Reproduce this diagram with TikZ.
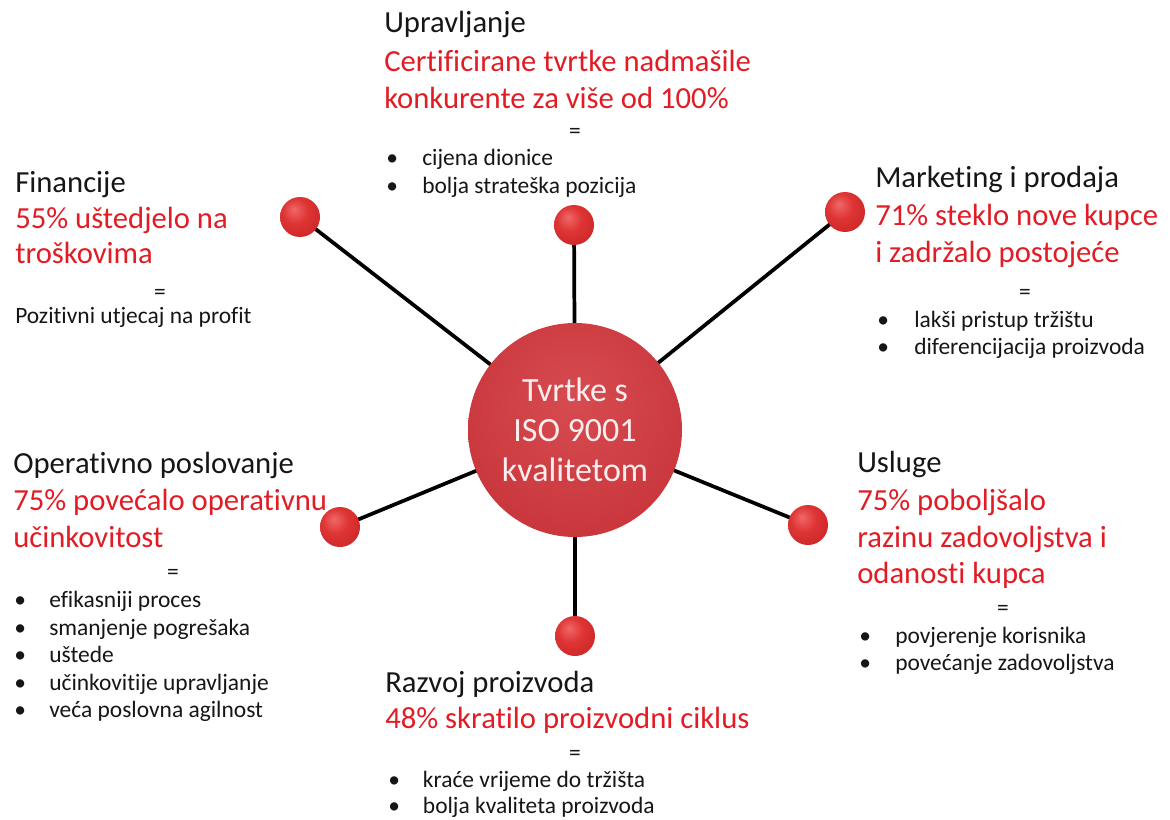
\documentclass[tikz,border=0pt]{standalone}
\usepackage{fontspec}
\setmainfont{Carlito}[Ligatures={CommonOff,ContextualOff}]
\usetikzlibrary{backgrounds}
\definecolor{txtred}{RGB}{226,28,36}
\definecolor{txtblack}{RGB}{22,22,22}
\definecolor{ballhi}{RGB}{240,104,104}
\definecolor{ballmid}{RGB}{222,52,52}
\definecolor{balldark}{RGB}{196,32,34}
\definecolor{ballrim}{RGB}{140,16,16}
\definecolor{hubhi}{RGB}{214,76,80}
\definecolor{hubmid}{RGB}{201,54,60}
\definecolor{hubdark}{RGB}{182,40,46}
\definecolor{hubrim}{RGB}{145,28,32}
\definecolor{hubtext}{RGB}{252,238,238}
\pgfdeclareradialshading{smallball}{\pgfpoint{-8bp}{10bp}}{color(0bp)=(ballhi); color(16bp)=(ballmid); color(42bp)=(balldark); color(62bp)=(ballrim)}
\pgfdeclareradialshading{bigball}{\pgfpoint{0bp}{8bp}}{color(0bp)=(hubhi); color(30bp)=(hubmid); color(52bp)=(hubdark); color(58bp)=(hubrim)}
\newcommand\bulpt[1]{\makebox[#1][l]{•}}
\begin{document}
\begin{tikzpicture}[x=0.75pt,y=-0.75pt,
  title/.style={anchor=base west, inner sep=0pt, font=\fontsize{23}{27.75}\selectfont, text=txtblack},
  redtxt/.style={anchor=base west, inner sep=0pt, font=\fontsize{23}{27.75}\selectfont, text=txtred},
  eqsign/.style={anchor=base, inner sep=0pt, font=\fontsize{17.6}{21}\selectfont, text=txtblack},
  blist/.style={anchor=base west, inner sep=0pt, font=\fontsize{17.6}{21}\selectfont, text=txtblack},
  spoke/.style={line width=2.8pt, black},
  knob/.style={circle, minimum size=30pt, inner sep=0pt, shading=smallball},
  hub/.style={circle, minimum size=160.5pt, inner sep=0pt, shading=bigball, text=hubtext, align=center, font=\fontsize{25.5}{30}\selectfont}]
\useasboundingbox (0,0) rectangle (1170,820);

% Financije
\node[title] (fT) at (15,192) {Financije};
\node[redtxt] (fR1) at (15,228) {55\% uštedjelo na};
\node[redtxt] (fR2) at (15,263) {troškovima};
\node[eqsign] (fE) at (160,299) {=};
\node[blist] (fB1) at (15,323) {Pozitivni utjecaj na profit};

% Upravljanje
\node[title] (uT) at (384,33) {Upravljanje};
\node[redtxt] (uR1) at (384,72) {Certificirane tvrtke nadmašile};
\node[redtxt] (uR2) at (384,109) {konkurente za više od 100\%};
\node[eqsign] (uE) at (575,139) {=};
\node[blist] (uB1) at (386,166) {\bulpt{27pt}cijena dionice};
\node[blist] (uB2) at (386,194) {\bulpt{27pt}bolja strateška pozicija};

% Marketing
\node[title] (mT) at (875,187) {Marketing i prodaja};
\node[redtxt] (mR1) at (875,225) {71\% steklo nove kupce};
\node[redtxt] (mR2) at (875,262) {i zadržalo postojeće};
\node[eqsign] (mE) at (1025,299) {=};
\node[blist] (mB1) at (877,327) {\bulpt{27.75pt}lakši pristup tržištu};
\node[blist] (mB2) at (877,354) {\bulpt{27.75pt}diferencijacija proizvoda};

% Operativno
\node[title] (oT) at (13,473) {Operativno poslovanje};
\node[redtxt] (oR1) at (13,510) {75\% povećalo operativnu};
\node[redtxt] (oR2) at (13,547) {učinkovitost};
\node[eqsign] (oE) at (173,579) {=};
\node[blist] (oB1) at (14,607) {\bulpt{26.25pt}efikasniji proces};
\node[blist] (oB2) at (14,635) {\bulpt{26.25pt}smanjenje pogrešaka};
\node[blist] (oB3) at (14,662) {\bulpt{26.25pt}uštede};
\node[blist] (oB4) at (14,690) {\bulpt{26.25pt}učinkovitije upravljanje};
\node[blist] (oB5) at (14,717) {\bulpt{26.25pt}veća poslovna agilnost};

% Usluge
\node[title] (sT) at (857,472) {Usluge};
\node[redtxt] (sR1) at (857,510) {75\% poboljšalo};
\node[redtxt] (sR2) at (857,547) {razinu zadovoljstva i};
\node[redtxt] (sR3) at (857,583) {odanosti kupca};
\node[eqsign] (sE) at (1003,615) {=};
\node[blist] (sB1) at (859,643) {\bulpt{27pt}povjerenje korisnika};
\node[blist] (sB2) at (859,670) {\bulpt{27pt}povećanje zadovoljstva};

% Razvoj
\node[title] (rT) at (385,692) {Razvoj proizvoda};
\node[redtxt] (rR1) at (385,728) {48\% skratilo proizvodni ciklus};
\node[eqsign] (rE) at (575,760) {=};
\node[blist] (rB1) at (388,787) {\bulpt{26pt}kraće vrijeme do tržišta};
\node[blist] (rB2) at (388,813) {\bulpt{26pt}bolja kvaliteta proizvoda};

% hub and knobs
\node[hub] (hub) at (575,430) {Tvrtke s\\ISO 9001\\kvalitetom};
\node[knob] (kF) at (300,217) {};
\node[knob] (kU) at (574,225) {};
\node[knob] (kM) at (845,212) {};
\node[knob] (kO) at (340,527) {};
\node[knob] (kS) at (808,525) {};
\node[knob] (kR) at (575,636) {};

\begin{pgfonlayer}{background}
\draw[spoke] (hub.center) -- (kF.center);
\draw[spoke] (hub.center) -- (kU.center);
\draw[spoke] (hub.center) -- (kM.center);
\draw[spoke] (hub.center) -- (kO.center);
\draw[spoke] (hub.center) -- (kS.center);
\draw[spoke] (hub.center) -- (kR.center);
\end{pgfonlayer}
\end{tikzpicture}
\end{document}
